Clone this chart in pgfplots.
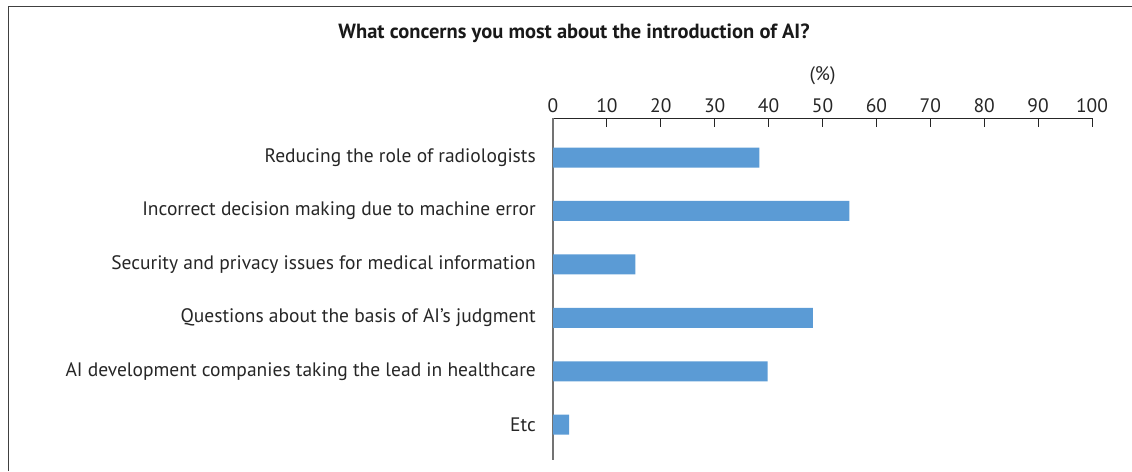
\documentclass[border=0pt]{standalone}
\usepackage{pgfplots}
\pgfplotsset{compat=1.18}
\usepackage{fontspec}
\setmainfont{PT Sans}
\definecolor{barblue}{HTML}{5B9BD5}
\begin{document}
\begin{tikzpicture}
\useasboundingbox (0pt,0pt) rectangle (1132pt,-471pt);
\draw[color=black!75, line width=1.5pt] (8.5pt,-471pt) -- (8.5pt,-6.5pt) -- (1132pt,-6.5pt);
\node[font=\fontsize{20.5}{24}\selectfont\bfseries, text=black!90] at (574pt,-33pt) {What concerns you most about the introduction of AI?};
\begin{axis}[
  at={(553pt,-118pt)}, anchor=north west,
  scale only axis, width=539pt, height=342pt,
  xmin=0, xmax=100, ymin=-0.66, ymax=5.74,
  axis x line*=top, axis y line*=left,
  axis line style={-},
  x axis line style={black!85, line width=1pt},
  y axis line style={black!55, line width=1.5pt},
  xtick={0,10,...,100},
  ytick={0,...,5},
  yticklabels={Etc, AI development companies taking the lead in healthcare, Questions about the basis of AI’s judgment, Security and privacy issues for medical information, Incorrect decision making due to machine error, Reducing the role of radiologists},
  xticklabel pos=upper,
  tick align=inside,
  major tick length=9pt,
  xtick style={black!85, line width=1pt},
  ytick style={draw=none},
  tick label style={font=\fontsize{19.5}{23}\selectfont, text=black!85},
  /pgf/number format/assume math mode=true,
  xticklabel style={inner sep=0pt, anchor=south, yshift=5pt},
  yticklabel style={inner sep=0pt, anchor=east, xshift=-8pt},
  xlabel={(\%)},
  xlabel style={font=\fontsize{19.5}{23}\selectfont, text=black!85, at={(axis description cs:0.5,1)}, anchor=south, yshift=33pt, inner sep=0pt},
  xbar, bar width=20pt,
  clip=false,
]
\addplot[fill=barblue, draw=none] coordinates {(38.3,5) (55.0,4) (15.3,3) (48.2,2) (39.8,1) (3.0,0)};
\end{axis}
\end{tikzpicture}
\end{document}
